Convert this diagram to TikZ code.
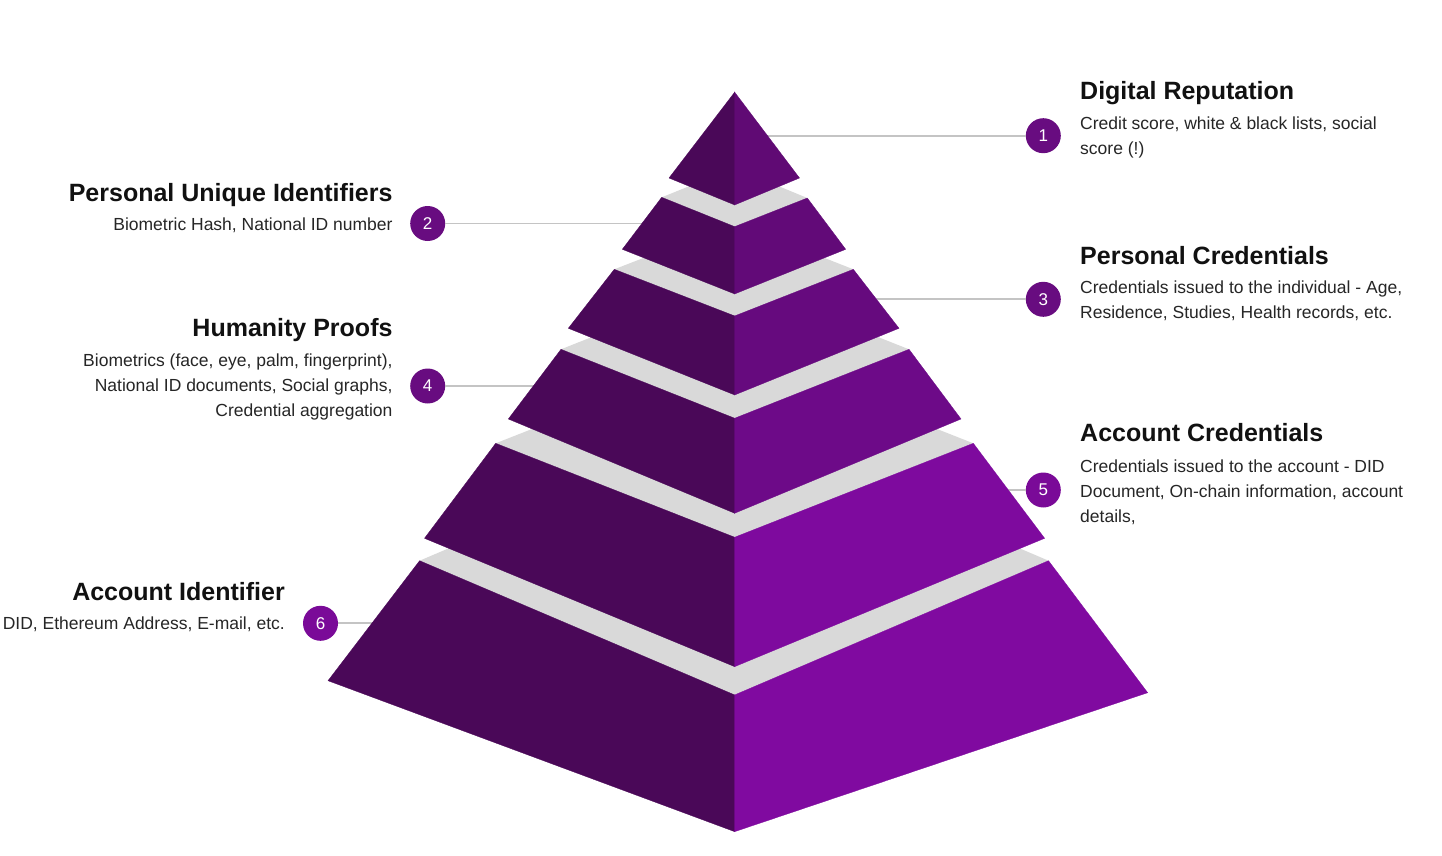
\documentclass[tikz,border=0pt]{standalone}
\usepackage{fontspec}
\setmainfont{Liberation Sans}
\definecolor{leftface}{HTML}{4A0858}
\definecolor{rA}{HTML}{600A74}
\definecolor{rB}{HTML}{620A78}
\definecolor{rC}{HTML}{660A7E}
\definecolor{rD}{HTML}{6D0A88}
\definecolor{rE}{HTML}{7E0A9E}
\definecolor{rF}{HTML}{800AA0}
\definecolor{topface}{HTML}{D9D9D9}
\definecolor{connc}{HTML}{C4C4C4}
\definecolor{badgeA}{HTML}{680C80}
\definecolor{badgeB}{HTML}{7A0A98}
\definecolor{titlec}{HTML}{111111}
\definecolor{bodyc}{HTML}{262626}
\begin{document}
\begin{tikzpicture}[x=1pt,y=-1pt,
  title/.style={inner sep=0pt,text=titlec,font=\fontsize{25}{30}\selectfont\bfseries},
  body/.style={inner sep=0pt,text=bodyc,font=\fontsize{17.5}{25}\selectfont},
  badge/.style={circle,inner sep=0pt,minimum size=35pt,text=white,font=\fontsize{17}{17}\selectfont},
  conn/.style={draw=connc,line width=1.8pt},
  lface/.style={fill=leftface,draw=leftface,line width=0.3pt},
  gface/.style={fill=topface}]
\useasboundingbox (0,0) rectangle (1442,856);
\fill[white] (0,0) rectangle (1442,856);

% badges
\node[badge,fill=badgeA] (c1) at (1043.3,135.7) {1};
\node[badge,fill=badgeA] (c2) at (427.7,223.5) {2};
\node[badge,fill=badgeA] (c3) at (1043.3,299.3) {3};
\node[badge,fill=badgeA] (c4) at (427.7,386) {4};
\node[badge,fill=badgeB] (c5) at (1043.3,490) {5};
\node[badge,fill=badgeB] (c6) at (320.5,623.3) {6};

% connector anchors inside the pyramid
\coordinate (p1) at (740,135.7);
\coordinate (p2) at (700,223.5);
\coordinate (p3) at (800,299.3);
\coordinate (p4) at (600,386);
\coordinate (p5) at (900,490);
\coordinate (p6) at (450,623.3);
\draw[conn] (p1) -- (c1);
\draw[conn] (p2) -- (c2);
\draw[conn] (p3) -- (c3);
\draw[conn] (p4) -- (c4);
\draw[conn] (p5) -- (c5);
\draw[conn] (p6) -- (c6);

% tier 6 (bottom)
\fill[gface] (419.6,560.7) -- (734.5,695) -- (1048.5,560.7) -- (734.5,426.4) -- cycle;
\path[lface] (419.6,560.7) -- (734.8,695) -- (734.8,831.7) -- (328,680.7) -- cycle;
\path[fill=rF,draw=rF,line width=0.3pt] (734.5,695) -- (1048.5,560.7) -- (1147.7,692.7) -- (734.5,831.7) -- cycle;
% tier 5
\fill[gface] (495.7,443.3) -- (734.5,537.3) -- (973.3,443.3) -- (734.5,349.3) -- cycle;
\path[lface] (495.7,443.3) -- (734.8,537.3) -- (734.8,666.7) -- (424.5,538.3) -- cycle;
\path[fill=rE,draw=rE,line width=0.3pt] (734.5,537.3) -- (973.3,443.3) -- (1044.6,538.3) -- (734.5,666.7) -- cycle;
% tier 4
\fill[gface] (561,349.3) -- (734.5,418.3) -- (909,349.3) -- (734.5,280.3) -- cycle;
\path[lface] (561,349.3) -- (734.8,418.3) -- (734.8,513.3) -- (508.3,419) -- cycle;
\path[fill=rD,draw=rD,line width=0.3pt] (734.5,418.3) -- (909,349.3) -- (961,419) -- (734.5,513.3) -- cycle;
% tier 3
\fill[gface] (614.3,269.3) -- (734.5,316) -- (853.3,269.3) -- (734.5,222.6) -- cycle;
\path[lface] (614.3,269.3) -- (734.8,316) -- (734.8,395) -- (568.3,328.3) -- cycle;
\path[fill=rC,draw=rC,line width=0.3pt] (734.5,316) -- (853.3,269.3) -- (899,328.3) -- (734.5,395) -- cycle;
% tier 2
\fill[gface] (661.7,197.3) -- (734.5,226.7) -- (807.3,198) -- (734.5,168) -- cycle;
\path[lface] (661.7,197.3) -- (734.8,226.7) -- (734.8,294) -- (622.3,249.3) -- cycle;
\path[fill=rB,draw=rB,line width=0.3pt] (734.5,226.7) -- (807.3,198) -- (845.7,249.3) -- (734.5,294) -- cycle;
% tier 1 (top)
\path[lface] (734.8,92) -- (669,178) -- (734.8,205) -- cycle;
\path[fill=rA,draw=rA,line width=0.3pt] (734.5,92) -- (799.5,178) -- (734.5,205) -- cycle;

% right column texts
\node[title,anchor=base west] (t1) at (1080,99.3) {Digital Reputation};
\node[body,anchor=base west] (d1a) at (1080,129) {Credit score, white \& black lists, social};
\node[body,anchor=base west] (d1b) at (1080,154) {score (!)};
\node[title,anchor=base west] (t3) at (1080,264.3) {Personal Credentials};
\node[body,anchor=base west] (d3a) at (1080,293.3) {Credentials issued to the individual - Age,};
\node[body,anchor=base west] (d3b) at (1080,318.3) {Residence, Studies, Health records, etc.};
\node[title,anchor=base west] (t5) at (1080,441.7) {Account Credentials};
\node[body,anchor=base west] (d5a) at (1080,472.5) {Credentials issued to the account - DID};
\node[body,anchor=base west] (d5b) at (1080,497.5) {Document, On-chain information, account};
\node[body,anchor=base west] (d5c) at (1080,522.5) {details,};

% left column texts
\node[title,anchor=base east] (t2) at (392.7,201.7) {Personal Unique Identifiers};
\node[body,anchor=base east] (d2a) at (392.7,230) {Biometric Hash, National ID number};
\node[title,anchor=base east] (t4) at (392.7,336.7) {Humanity Proofs};
\node[body,anchor=base east] (d4a) at (392.7,366) {Biometrics (face, eye, palm, fingerprint),};
\node[body,anchor=base east] (d4b) at (392.7,391.7) {National ID documents, Social graphs,};
\node[body,anchor=base east] (d4c) at (392.7,416.7) {Credential aggregation};
\node[title,anchor=base east] (t6) at (285,600.7) {Account Identifier};
\node[body,anchor=base east] (d6a) at (285,629.3) {DID, Ethereum Address, E-mail, etc.};
\end{tikzpicture}
\end{document}
